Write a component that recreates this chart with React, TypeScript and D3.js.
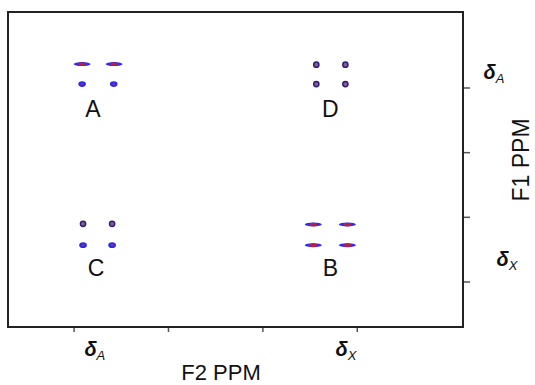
import React, { useEffect, useRef } from "react";
import * as d3 from "d3";

// F2 (horizontal) and F1 (vertical) tick values, ppm
const f2Ticks = [4, 3, 2, 1];
const f1Ticks = [4, 3, 2, 1];

// cross peaks: F2 ppm, F1 ppm, shape
const peakF2 = [3.915, 3.576, 3.915, 3.58, 1.434, 1.126, 1.434, 1.126, 3.905, 3.597, 3.905, 3.597, 1.466, 1.105, 1.466, 1.105];
const peakF1 = [4.37, 4.37, 4.06, 4.06, 4.36, 4.36, 4.06, 4.06, 1.9, 1.9, 1.57, 1.57, 1.89, 1.89, 1.57, 1.57];
const peakShape = ["dash", "dash", "blob", "blob", "dot", "dot", "dot", "dot", "dot", "dot", "blob", "blob", "dash", "dash", "dash", "dash"];

// multiplet labels
const groupNames = ["A", "D", "C", "B"];
const groupF2 = [3.8, 1.285, 3.767, 1.285];
const groupF1 = [3.68, 3.68, 1.22, 1.22];

// chemical shift labels
const shiftNames = ["A", "X"];
const shiftF2 = [3.78, 1.12];
const shiftF1 = [4.22, 1.32];

export default function App() {
    const ref = useRef<SVGSVGElement>(null);

    useEffect(() => {
        const svg = d3.select(ref.current);
        svg.selectAll("*").remove();

        const box = { left: 8, top: 12, right: 463, bottom: 327 };
        const x = d3.scaleLinear().domain([4.7, -0.12]).range([box.left, box.right]);
        const y = d3.scaleLinear().domain([5.175, 0.304]).range([box.top, box.bottom]);
        const font = "'Liberation Sans', Arial, Helvetica, sans-serif";

        // ticks
        svg.append("g")
            .selectAll("line")
            .data(f2Ticks)
            .join("line")
            .attr("x1", d => x(d)).attr("x2", d => x(d))
            .attr("y1", box.bottom).attr("y2", box.bottom + 5)
            .attr("stroke", "#555").attr("stroke-width", 1.5);
        svg.append("g")
            .selectAll("line")
            .data(f1Ticks)
            .join("line")
            .attr("y1", d => y(d)).attr("y2", d => y(d))
            .attr("x1", box.right).attr("x2", box.right + 7)
            .attr("stroke", "#555").attr("stroke-width", 1.5);

        // frame
        svg.append("rect")
            .attr("x", box.left).attr("y", box.top)
            .attr("width", box.right - box.left).attr("height", box.bottom - box.top)
            .attr("fill", "none").attr("stroke", "#222").attr("stroke-width", 2);

        // peaks
        const peaks = peakF2.map((f2, i) => ({ f2, f1: peakF1[i], shape: peakShape[i] }));
        const g = svg.append("g");
        peaks.forEach(p => {
            const cx = x(p.f2), cy = y(p.f1);
            if (p.shape === "dash") {
                g.append("ellipse").attr("cx", cx).attr("cy", cy).attr("rx", 8.5).attr("ry", 2)
                    .attr("fill", "#2a2aff");
                g.append("ellipse").attr("cx", cx).attr("cy", cy).attr("rx", 4).attr("ry", 1.8)
                    .attr("fill", "#b0204a");
            } else if (p.shape === "dot") {
                g.append("circle").attr("cx", cx).attr("cy", cy).attr("r", 2.6)
                    .attr("fill", "#8a5a9a").attr("stroke", "#302070").attr("stroke-width", 1.5);
            } else {
                g.append("ellipse").attr("cx", cx).attr("cy", cy).attr("rx", 3.8).attr("ry", 2.8)
                    .attr("fill", "#2a2aee");
                g.append("circle").attr("cx", cx).attr("cy", cy).attr("r", 1.2)
                    .attr("fill", "#a03070");
            }
        });

        // group letters
        svg.append("g")
            .selectAll("text")
            .data(groupNames)
            .join("text")
            .attr("x", (d, i) => x(groupF2[i]))
            .attr("y", (d, i) => y(groupF1[i]))
            .attr("dy", "0.36em")
            .attr("text-anchor", "middle")
            .attr("font-family", font).attr("font-size", 23)
            .attr("fill", "#111")
            .text(d => d);

        // delta labels
        const delta = (sel: any, sub: string) => {
            sel.append("tspan").attr("font-weight", "bold").attr("font-style", "italic")
                .attr("font-size", 20).text("δ");
            sel.append("tspan").attr("font-style", "italic").attr("font-size", 13)
                .attr("dy", 4).text(sub);
        };
        shiftNames.forEach((s, i) => {
            const t = svg.append("text")
                .attr("x", x(shiftF2[i])).attr("y", 356)
                .attr("text-anchor", "middle")
                .attr("font-family", font).attr("fill", "#111");
            delta(t, s);
            const r = svg.append("text")
                .attr("x", i === 0 ? box.right + 31 : box.right + 44).attr("y", y(shiftF1[i]) + 5)
                .attr("text-anchor", "middle")
                .attr("font-family", font).attr("fill", "#111");
            delta(r, s);
        });

        // axis titles
        svg.append("text")
            .attr("x", 221).attr("y", 380)
            .attr("text-anchor", "middle")
            .attr("font-family", font).attr("font-size", 22)
            .attr("fill", "#111")
            .text("F2 PPM");
        svg.append("text")
            .attr("transform", "translate(529,160) rotate(-90)")
            .attr("text-anchor", "middle")
            .attr("font-family", font).attr("font-size", 23)
            .attr("fill", "#111")
            .text("F1 PPM");
    }, []);

    return (
        <svg ref={ref} width={535} height={385}
             style={{ position: "absolute", left: 0, top: 0, background: "#fff" }} />
    );
}
